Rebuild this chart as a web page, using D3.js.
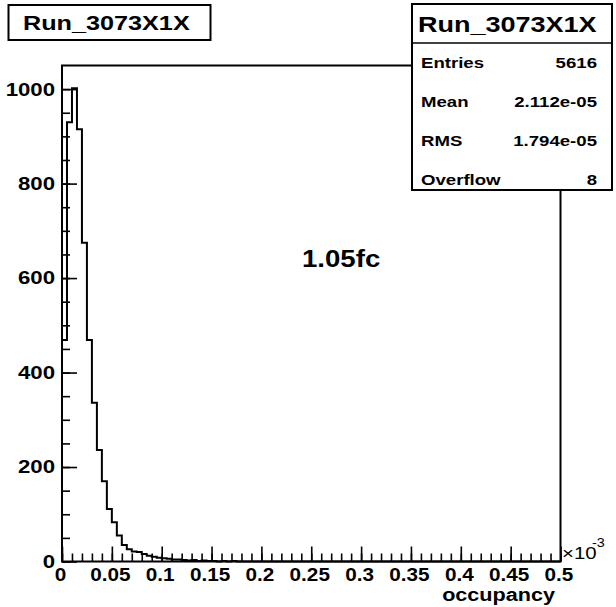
<!DOCTYPE html>
<html>
<head>
<meta charset="utf-8">
<script src="https://cdn.jsdelivr.net/npm/d3@7"></script>
<style>
  body { margin: 0; background: #fff; }
  text { font-family: "Liberation Sans", Arial, sans-serif; font-weight: bold; }
</style>
</head>
<body>
<script>
// histogram contents, bin width 0.005 (x 10^-3), starting at 0
var binWidth = 0.005;
var binCounts = [469, 930, 1002, 915, 675, 469, 336, 236, 170, 111,
                 83, 55, 35, 26, 21, 20, 16, 12, 10, 8,
                 7, 6, 4, 4, 3, 2, 3, 1, 2, 1,
                 1, 0, 1, 0, 1];

var xMajor = [0, 0.05, 0.1, 0.15, 0.2, 0.25, 0.3, 0.35, 0.4, 0.45, 0.5];
var xTickLabels = ["0", "0.05", "0.1", "0.15", "0.2", "0.25", "0.3", "0.35", "0.4", "0.45", "0.5"];
var xMinor = d3.range(0, 51).map(function(i) { return i / 100; });
var yMajor = [0, 200, 400, 600, 800, 1000];
var yMinor = d3.range(0, 21).map(function(i) { return i * 50; });

var histTitle = "Run_3073X1X";
var statsLabels = ["Entries", "Mean", "RMS", "Overflow"];
var statsValues = ["5616", "2.112e-05", "1.794e-05", "8"];
var annotation = "1.05fc";
var xTitle = "occupancy";

var W = 616, H = 607;
var frame = {left: 62, right: 560.5, top: 65.5, bottom: 561.5};

var x = d3.scaleLinear().domain([0, 0.5]).range([frame.left, frame.right]);
var y = d3.scaleLinear().domain([0, 1050]).range([frame.bottom, frame.top]);

var svg = d3.select("body").append("svg")
    .attr("width", W)
    .attr("height", H);

svg.append("rect")
    .attr("width", W).attr("height", H)
    .attr("fill", "#fff");

// histogram outline
var pts = [[0, 0]];
binCounts.forEach(function(c, i) {
    pts.push([i * binWidth, c]);
    pts.push([(i + 1) * binWidth, c]);
});
pts.push([binCounts.length * binWidth, 0]);
pts.push([0.5, 0]);

var line = d3.line()
    .x(function(d) { return x(d[0]); })
    .y(function(d) { return y(d[1]); });

svg.append("path")
    .attr("d", line(pts))
    .attr("fill", "none")
    .attr("stroke", "#000")
    .attr("stroke-width", 2);

// axes (ticks inside the frame, ROOT style)
function cleanAxis(g) {
    g.select(".domain").remove();
    g.selectAll("line").attr("stroke", "#000").attr("stroke-width", 1.6);
    g.attr("font-family", null).attr("font-size", null);
    g.selectAll("text").attr("fill", "#000").style("font-size", "18.5px");
}

svg.append("g")
    .attr("transform", "translate(" + frame.left + ",0)")
    .call(d3.axisLeft(y).tickValues(yMinor).tickSize(-8).tickFormat(""))
    .call(cleanAxis);

svg.append("g")
    .attr("transform", "translate(" + frame.left + ",0)")
    .call(d3.axisLeft(y).tickValues(yMajor).tickSize(-15).tickPadding(7)
        .tickFormat(d3.format("d")))
    .call(cleanAxis);

svg.append("g")
    .attr("transform", "translate(0," + frame.bottom + ")")
    .call(d3.axisBottom(x).tickValues(xMinor).tickSize(-8).tickFormat(""))
    .call(cleanAxis);

svg.append("g")
    .attr("transform", "translate(0," + frame.bottom + ")")
    .call(d3.axisBottom(x).tickValues(xMajor).tickSize(-15).tickPadding(7)
        .tickFormat(function(d, i) { return xTickLabels[i]; }))
    .call(cleanAxis)
    .selectAll("text")
    .attr("class", "xlab")
    .attr("dx", -2)
    .style("font-size", "18px");

// frame
svg.append("rect")
    .attr("x", frame.left).attr("y", frame.top)
    .attr("width", frame.right - frame.left)
    .attr("height", frame.bottom - frame.top)
    .attr("fill", "none")
    .attr("stroke", "#000")
    .attr("stroke-width", 2);

// x axis title and exponent
svg.append("text")
    .attr("x", 555).attr("y", 601)
    .attr("text-anchor", "end")
    .style("font-size", "18px")
    .text(xTitle);

svg.append("text")
    .attr("x", 562).attr("y", 558.5)
    .style("font-size", "17px")
    .style("font-weight", "normal")
    .text("\u00d710");
svg.append("text")
    .attr("x", 592).attr("y", 547)
    .style("font-size", "12px")
    .style("font-weight", "normal")
    .text("-3");

// annotation
svg.append("text")
    .attr("x", 302).attr("y", 267)
    .style("font-size", "23px")
    .text(annotation);

// title box
svg.append("rect")
    .attr("x", 8.5).attr("y", 5)
    .attr("width", 202).attr("height", 35)
    .attr("fill", "#fff")
    .attr("stroke", "#000")
    .attr("stroke-width", 2);
svg.append("text")
    .attr("x", 23).attr("y", 30)
    .style("font-size", "21px")
    .text(histTitle);

// stats box
var box = {x: 412, y: 4, w: 200, h: 186, head: 39};
svg.append("rect")
    .attr("x", box.x).attr("y", box.y)
    .attr("width", box.w).attr("height", box.h)
    .attr("fill", "#fff")
    .attr("stroke", "#000")
    .attr("stroke-width", 2);
svg.append("line")
    .attr("x1", box.x).attr("x2", box.x + box.w)
    .attr("y1", box.y + box.head).attr("y2", box.y + box.head)
    .attr("stroke", "#000")
    .attr("stroke-width", 1.5);
svg.append("text")
    .attr("x", 418).attr("y", 32)
    .style("font-size", "22.5px")
    .text(histTitle);

var rowY = d3.scaleLinear().domain([0, 3]).range([68, 185]);
svg.selectAll(".slab")
    .data(statsLabels)
    .enter().append("text")
    .attr("class", "slab")
    .attr("x", 421)
    .attr("y", function(d, i) { return rowY(i); })
    .style("font-size", "15.5px")
    .text(function(d) { return d; });
svg.selectAll(".sval")
    .data(statsValues)
    .enter().append("text")
    .attr("class", "sval")
    .attr("x", 597)
    .attr("y", function(d, i) { return rowY(i); })
    .attr("text-anchor", "end")
    .style("font-size", "15.5px")
    .text(function(d) { return d; });

// the original text is rendered noticeably wider than Helvetica
svg.selectAll("text").each(function() {
    var t = d3.select(this);
    if (!t.text()) return;
    var k = t.classed("xlab") ? 1.15 : 1.2;
    var len = this.getComputedTextLength();
    t.attr("textLength", len * k).attr("lengthAdjust", "spacingAndGlyphs");
});
</script>
</body>
</html>
